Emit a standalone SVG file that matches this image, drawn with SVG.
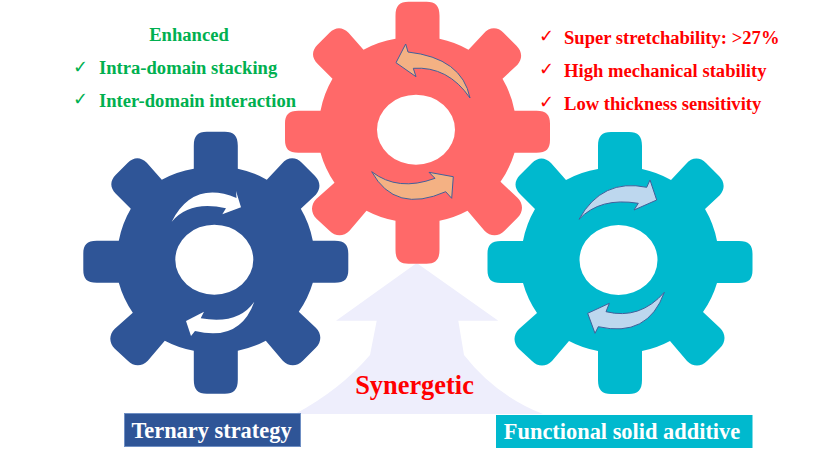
<svg xmlns="http://www.w3.org/2000/svg" xmlns:xlink="http://www.w3.org/1999/xlink" width="820" height="462" viewBox="0 0 820 462">
<style>
text{font-family:"Liberation Serif","Times New Roman",serif;font-weight:bold}
.green{fill:#00B050;font-size:18.6px}
.red{fill:#FF0000;font-size:18.6px}
.chk{font-family:"DejaVu Sans",sans-serif;font-weight:normal;font-size:18px}
.lab{fill:#fff;font-size:22.4px;text-anchor:middle}
.arw{stroke:#41609A;stroke-width:1;stroke-linejoin:miter}
</style>
<defs>
<path id="gear" fill-rule="evenodd" d="M-22,-93 L-22,-116 C-22,-126 -18,-130 -9,-130 L9,-130 C18,-130 22,-126 22,-116 L22,-93 A100,100 0 0 1 51,-82 L66,-98 C72,-105 80,-105 86,-99 L99,-86 C105,-80 105,-73 100,-67 L85,-53 A100,100 0 0 1 97,-21 L119,-21 C129,-21 132.500,-17 132.500,-8 L132.500,8 C132.500,17 129,21 119,21 L97,21 A100,100 0 0 1 83,50 L100,66 C106,72 106,80 100,86 L87,99 C81,105 73,105 67,99 L50,79 A100,100 0 0 1 22,89 L22,118 C22,128 18,132 9,132 L-9,132 C-18,132 -22,128 -22,118 L-22,89 A100,100 0 0 1 -51,79 L-68,99 C-74,105 -82,105 -88,99 L-101,87 C-107,81 -107,73 -101,67 L-83,51 A100,100 0 0 1 -97,21 L-119,21 C-129,21 -132.500,17 -132.500,8 L-132.500,-8 C-132.500,-17 -129,-21 -119,-21 L-97,-21 A100,100 0 0 1 -85,-53 L-100,-68 C-106,-74 -106,-81 -100,-87 L-88,-99 C-82,-105 -75,-105 -69,-99 L-54,-82 A100,100 0 0 1 -22,-93 Z M-40.500,-2 A39,35 0 1 0 37.500,-2 A39,35 0 1 0 -40.500,-2 Z"/>
</defs>
<rect width="820" height="462" fill="#fff"/>
<g id="connectors">
<path id="synergy-arrow" fill="#EEEEFC" d="M416.700,263 L498.300,320.700 L458.300,320.700 L464,355 Q495,395 543,414 L295,414 Q340,390 370,355 L376.700,320.700 L336,320.700 Z"/>
</g>
<g id="gear-blue">
<use href="#gear" xlink:href="#gear" transform="translate(215.800,261.700)" fill="#2F5597"/>
<path fill="#fff" d="M171.700,221.700 Q193,180 236.500,198 L236,191 L241,207.300 L222.300,214.300 L226,208.300 Q190,200 171.700,221.700Z"/>
<path fill="#fff" d="M254.300,301.700 Q238,325 200.700,318.300 L204,311.700 L186,321 L191,336 L195,331 Q240,342 254.300,301.700Z"/>
</g>
<g id="gear-red">
<use href="#gear" xlink:href="#gear" transform="translate(417.500,131.700)" fill="#FF6969"/>
<path class="arw" fill="#F4B183" d="M470,98 Q462,58 408,52 L405.700,44 L396,62.700 L416,76.700 L413.300,68.300 Q448,66 470,98Z"/>
<path class="arw" fill="#F4B183" d="M371.700,171.700 Q398,192 435,178.300 L429,172.300 L453.300,176.700 L451.700,198.300 L445.700,191.700 Q395,214 371.700,171.700Z"/>
</g>
<g id="gear-teal">
<use href="#gear" xlink:href="#gear" transform="translate(620,262)" fill="#00B9CE"/>
<path class="arw" fill="#BDD7EE" d="M579,219.300 Q602,178 646.700,187.300 L650,180 L656.700,200 L634,210 L638.300,203.300 Q600,197 579,219.300Z"/>
<path class="arw" fill="#BDD7EE" d="M664.300,292.300 Q640,320 606,311.700 L609.300,303.300 L587.700,313.300 L595,333.300 L598.300,326.700 Q648,338 664.300,292.300Z"/>
</g>
<g id="enhanced-list">
<text class="green" x="189" y="41" text-anchor="middle">Enhanced</text>
<text class="green chk" x="73" y="73">✓</text>
<text class="green" x="99" y="74.300">Intra-domain stacking</text>
<text class="green chk" x="73" y="105">✓</text>
<text class="green" x="99" y="106.700">Inter-domain interaction</text>
</g>
<g id="property-list">
<text class="red chk" x="539" y="42">✓</text>
<text class="red" x="564" y="44">Super stretchability: &gt;27%</text>
<text class="red chk" x="539" y="75">✓</text>
<text class="red" x="564" y="76.700">High mechanical stability</text>
<text class="red chk" x="539" y="108">✓</text>
<text class="red" x="564" y="110">Low thickness sensitivity</text>
</g>
<g id="label-synergetic">
<text x="414.500" y="394" text-anchor="middle" fill="#FF0000" font-size="26.400">Synergetic</text>
</g>
<g id="label-ternary">
<rect x="124.500" y="413.500" width="176" height="33" fill="#2F5597" stroke="#6F8FC4" stroke-width="1"/>
<text class="lab" x="211.500" y="438.300">Ternary strategy</text>
</g>
<g id="label-functional">
<rect x="496" y="415" width="256.500" height="33" fill="#00B9CE"/>
<text class="lab" x="622" y="439.300">Functional solid additive</text>
</g>
</svg>
